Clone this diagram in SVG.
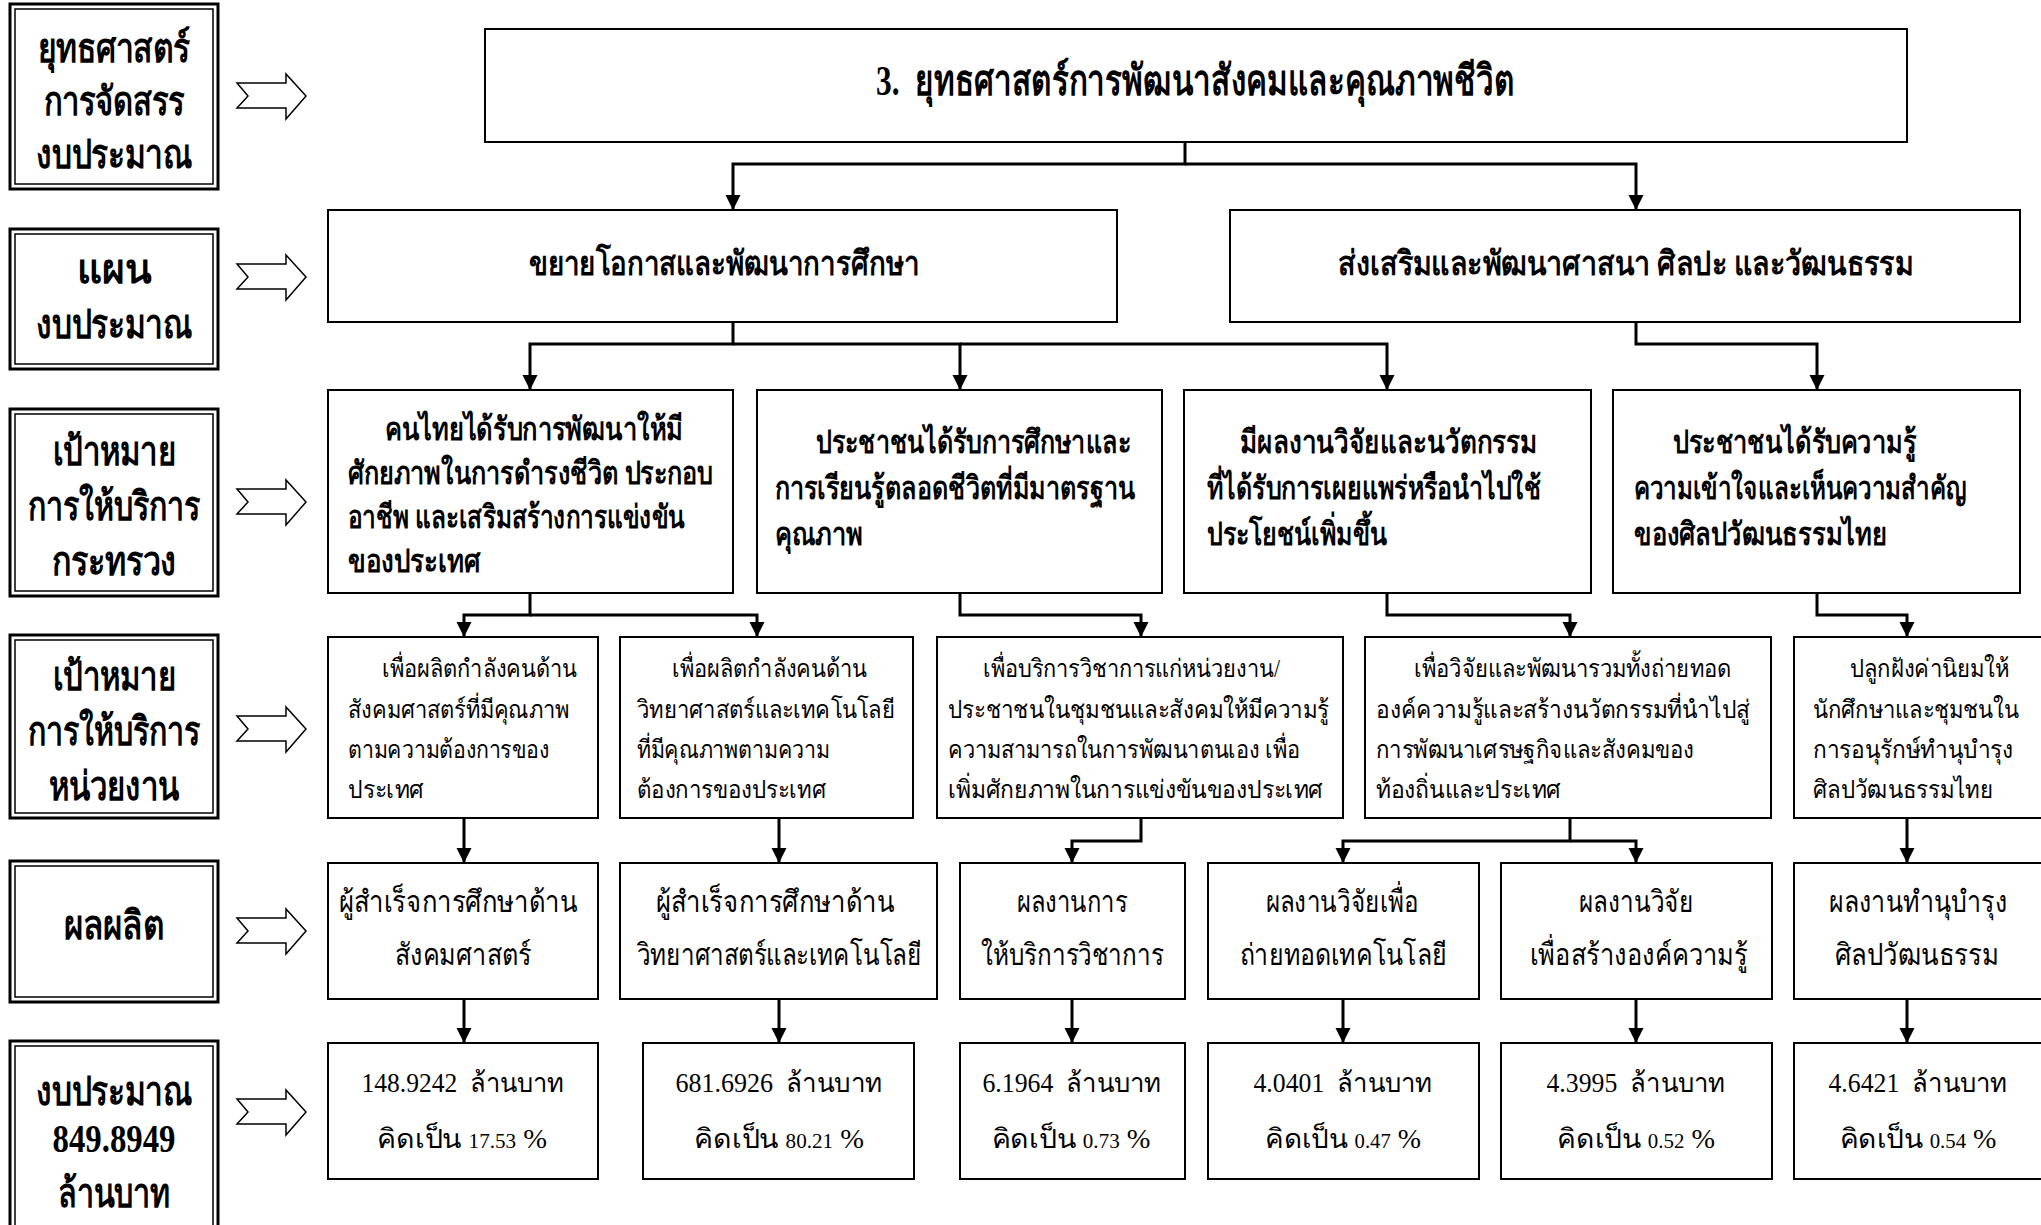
<svg xmlns="http://www.w3.org/2000/svg" width="2041" height="1225" viewBox="0 0 2041 1225">
<style>
  .bg { fill: #ffffff; }
  .box { fill: #ffffff; stroke: #000; stroke-width: 2; }
  .lo { fill: #ffffff; stroke: #000; stroke-width: 3; }
  .li { fill: none; stroke: #000; stroke-width: 1.5; }
  .ba { fill: #ffffff; stroke: #000; stroke-width: 1.5; stroke-linejoin: miter; }
  .con { fill: none; stroke: #000; stroke-width: 3; stroke-linejoin: miter; }
  text { font-family: "Liberation Serif", "Noto Sans", serif; fill: #000; }
  .lab { font-size: 40px; font-weight: bold; text-anchor: middle; }
  .ttl { font-size: 42px; font-weight: bold; }
  .pl { font-size: 34px; font-weight: bold; }
  .g1 { font-size: 32px; font-weight: bold; }
  .g2 { font-size: 25px; }
  .out { font-size: 30px; text-anchor: middle; }
  .bud { font-size: 27px; text-anchor: middle; }
  .sm { font-size: 20px; }
</style>
<defs>
  <marker id="ah" markerUnits="userSpaceOnUse" markerWidth="16" markerHeight="16" refX="15" refY="7.5" orient="auto">
    <path d="M0,0 L15,7.5 L0,15 Z" fill="#000"/>
  </marker>
  <path id="barrow" class="ba" d="M0,-13 H49 V-22 L69,0 L49,23 V12 H0 L11,0 Z"/>
</defs>
<rect class="bg" x="0" y="0" width="2041" height="1225"/>

<!-- Left label column -->
<g id="label-strategy">
  <rect class="lo" x="10" y="4" width="208" height="185"/>
  <rect class="li" x="15" y="9" width="198" height="175"/>
  <text class="lab" x="114" y="62" textLength="152" lengthAdjust="spacingAndGlyphs">ยุทธศาสตร์</text>
  <text class="lab" x="114" y="115" textLength="141" lengthAdjust="spacingAndGlyphs">การจัดสรร</text>
  <text class="lab" x="114" y="168" textLength="156" lengthAdjust="spacingAndGlyphs">งบประมาณ</text>
</g>
<g id="label-plan">
  <rect class="lo" x="10" y="229" width="208" height="140"/>
  <rect class="li" x="15" y="234" width="198" height="130"/>
  <text class="lab" x="114" y="283" textLength="74" lengthAdjust="spacingAndGlyphs">แผน</text>
  <text class="lab" x="114" y="338" textLength="156" lengthAdjust="spacingAndGlyphs">งบประมาณ</text>
</g>
<g id="label-ministry-goal">
  <rect class="lo" x="10" y="409" width="208" height="187"/>
  <rect class="li" x="15" y="414" width="198" height="177"/>
  <text class="lab" x="114" y="465" textLength="123" lengthAdjust="spacingAndGlyphs">เป้าหมาย</text>
  <text class="lab" x="114" y="520" textLength="172" lengthAdjust="spacingAndGlyphs">การให้บริการ</text>
  <text class="lab" x="114" y="575" textLength="125" lengthAdjust="spacingAndGlyphs">กระทรวง</text>
</g>
<g id="label-unit-goal">
  <rect class="lo" x="10" y="635" width="208" height="183"/>
  <rect class="li" x="15" y="640" width="198" height="173"/>
  <text class="lab" x="114" y="690" textLength="123" lengthAdjust="spacingAndGlyphs">เป้าหมาย</text>
  <text class="lab" x="114" y="745" textLength="172" lengthAdjust="spacingAndGlyphs">การให้บริการ</text>
  <text class="lab" x="114" y="800" textLength="130" lengthAdjust="spacingAndGlyphs">หน่วยงาน</text>
</g>
<g id="label-output">
  <rect class="lo" x="10" y="861" width="208" height="141"/>
  <rect class="li" x="15" y="866" width="198" height="131"/>
  <text class="lab" x="114" y="939" textLength="101" lengthAdjust="spacingAndGlyphs">ผลผลิต</text>
</g>
<g id="label-budget">
  <rect class="lo" x="10" y="1041" width="208" height="200"/>
  <rect class="li" x="15" y="1046" width="198" height="190"/>
  <text class="lab" x="114" y="1105" textLength="156" lengthAdjust="spacingAndGlyphs">งบประมาณ</text>
  <text class="lab" x="114" y="1152" textLength="123" lengthAdjust="spacingAndGlyphs">849.8949</text>
  <text class="lab" x="114" y="1207" textLength="112" lengthAdjust="spacingAndGlyphs">ล้านบาท</text>
</g>

<!-- Block arrows -->
<g id="block-arrows">
  <use href="#barrow" x="237" y="96"/>
  <use href="#barrow" x="237" y="277"/>
  <use href="#barrow" x="237" y="502"/>
  <use href="#barrow" x="237" y="729"/>
  <use href="#barrow" x="237" y="931"/>
  <use href="#barrow" x="237" y="1112"/>
</g>

<!-- Connectors -->
<g id="connectors">
  <path class="con" d="M1185,142 V164 H733 V210" marker-end="url(#ah)"/>
  <path class="con" d="M1185,164 H1636 V210" marker-end="url(#ah)"/>
  <path class="con" d="M733,322 V344 H530 V390" marker-end="url(#ah)"/>
  <path class="con" d="M733,344 H960 V390" marker-end="url(#ah)"/>
  <path class="con" d="M960,344 H1387 V390" marker-end="url(#ah)"/>
  <path class="con" d="M1636,322 V344 H1817 V390" marker-end="url(#ah)"/>
  <path class="con" d="M530,593 V615 H464 V637" marker-end="url(#ah)"/>
  <path class="con" d="M530,615 H757 V637" marker-end="url(#ah)"/>
  <path class="con" d="M960,593 V615 H1141 V637" marker-end="url(#ah)"/>
  <path class="con" d="M1387,593 V615 H1570 V637" marker-end="url(#ah)"/>
  <path class="con" d="M1817,593 V615 H1907 V637" marker-end="url(#ah)"/>
  <path class="con" d="M464,818 V863" marker-end="url(#ah)"/>
  <path class="con" d="M779,818 V863" marker-end="url(#ah)"/>
  <path class="con" d="M1141,818 V841 H1072 V863" marker-end="url(#ah)"/>
  <path class="con" d="M1570,818 V841 H1343 V863" marker-end="url(#ah)"/>
  <path class="con" d="M1570,841 H1636 V863" marker-end="url(#ah)"/>
  <path class="con" d="M1907,818 V863" marker-end="url(#ah)"/>
  <path class="con" d="M464,999 V1043" marker-end="url(#ah)"/>
  <path class="con" d="M779,999 V1043" marker-end="url(#ah)"/>
  <path class="con" d="M1072,999 V1043" marker-end="url(#ah)"/>
  <path class="con" d="M1343,999 V1043" marker-end="url(#ah)"/>
  <path class="con" d="M1636,999 V1043" marker-end="url(#ah)"/>
  <path class="con" d="M1907,999 V1043" marker-end="url(#ah)"/>
</g>

<!-- Strategy -->
<g id="strategy">
  <rect class="box" x="485" y="29" width="1422" height="113"/>
  <text class="ttl" x="876" y="95" xml:space="preserve" textLength="638" lengthAdjust="spacingAndGlyphs">3.  ยุทธศาสตร์การพัฒนาสังคมและคุณภาพชีวิต</text>
</g>

<!-- Plans -->
<g id="plan-education">
  <rect class="box" x="328" y="210" width="789" height="112"/>
  <text class="pl" x="529" y="275" textLength="390" lengthAdjust="spacingAndGlyphs">ขยายโอกาสและพัฒนาการศึกษา</text>
</g>
<g id="plan-culture">
  <rect class="box" x="1230" y="210" width="790" height="112"/>
  <text class="pl" x="1338" y="275" textLength="575" lengthAdjust="spacingAndGlyphs">ส่งเสริมและพัฒนาศาสนา ศิลปะ และวัฒนธรรม</text>
</g>

<!-- Ministry goals -->
<g id="goal-a">
  <rect class="box" x="328" y="390" width="405" height="203"/>
  <text class="g1" x="385" y="440" textLength="298" lengthAdjust="spacingAndGlyphs">คนไทยได้รับการพัฒนาให้มี</text>
  <text class="g1" x="348" y="484" textLength="365" lengthAdjust="spacingAndGlyphs">ศักยภาพในการดำรงชีวิต ประกอบ</text>
  <text class="g1" x="348" y="528" textLength="337" lengthAdjust="spacingAndGlyphs">อาชีพ และเสริมสร้างการแข่งขัน</text>
  <text class="g1" x="348" y="572" textLength="132" lengthAdjust="spacingAndGlyphs">ของประเทศ</text>
</g>
<g id="goal-b">
  <rect class="box" x="757" y="390" width="405" height="203"/>
  <text class="g1" x="816" y="453" textLength="315" lengthAdjust="spacingAndGlyphs">ประชาชนได้รับการศึกษาและ</text>
  <text class="g1" x="775" y="499" textLength="360" lengthAdjust="spacingAndGlyphs">การเรียนรู้ตลอดชีวิตที่มีมาตรฐาน</text>
  <text class="g1" x="775" y="545" textLength="88" lengthAdjust="spacingAndGlyphs">คุณภาพ</text>
</g>
<g id="goal-c">
  <rect class="box" x="1184" y="390" width="407" height="203"/>
  <text class="g1" x="1240" y="453" textLength="297" lengthAdjust="spacingAndGlyphs">มีผลงานวิจัยและนวัตกรรม</text>
  <text class="g1" x="1207" y="499" textLength="334" lengthAdjust="spacingAndGlyphs">ที่ได้รับการเผยแพร่หรือนำไปใช้</text>
  <text class="g1" x="1207" y="545" textLength="180" lengthAdjust="spacingAndGlyphs">ประโยชน์เพิ่มขึ้น</text>
</g>
<g id="goal-d">
  <rect class="box" x="1613" y="390" width="407" height="203"/>
  <text class="g1" x="1673" y="453" textLength="243" lengthAdjust="spacingAndGlyphs">ประชาชนได้รับความรู้</text>
  <text class="g1" x="1634" y="499" textLength="332" lengthAdjust="spacingAndGlyphs">ความเข้าใจและเห็นความสำคัญ</text>
  <text class="g1" x="1634" y="545" textLength="253" lengthAdjust="spacingAndGlyphs">ของศิลปวัฒนธรรมไทย</text>
</g>

<!-- Unit goals -->
<g id="unit-1">
  <rect class="box" x="328" y="637" width="270" height="181"/>
  <text class="g2" x="382" y="677" textLength="195" lengthAdjust="spacingAndGlyphs">เพื่อผลิตกำลังคนด้าน</text>
  <text class="g2" x="348" y="718" textLength="221" lengthAdjust="spacingAndGlyphs">สังคมศาสตร์ที่มีคุณภาพ</text>
  <text class="g2" x="348" y="758" textLength="201" lengthAdjust="spacingAndGlyphs">ตามความต้องการของ</text>
  <text class="g2" x="348" y="798" textLength="76" lengthAdjust="spacingAndGlyphs">ประเทศ</text>
</g>
<g id="unit-2">
  <rect class="box" x="620" y="637" width="293" height="181"/>
  <text class="g2" x="672" y="677" textLength="195" lengthAdjust="spacingAndGlyphs">เพื่อผลิตกำลังคนด้าน</text>
  <text class="g2" x="637" y="718" textLength="258" lengthAdjust="spacingAndGlyphs">วิทยาศาสตร์และเทคโนโลยี</text>
  <text class="g2" x="637" y="758" textLength="193" lengthAdjust="spacingAndGlyphs">ที่มีคุณภาพตามความ</text>
  <text class="g2" x="637" y="798" textLength="189" lengthAdjust="spacingAndGlyphs">ต้องการของประเทศ</text>
</g>
<g id="unit-3">
  <rect class="box" x="937" y="637" width="406" height="181"/>
  <text class="g2" x="983" y="677" textLength="297" lengthAdjust="spacingAndGlyphs">เพื่อบริการวิชาการแก่หน่วยงาน/</text>
  <text class="g2" x="948" y="718" textLength="381" lengthAdjust="spacingAndGlyphs">ประชาชนในชุมชนและสังคมให้มีความรู้</text>
  <text class="g2" x="948" y="758" textLength="352" lengthAdjust="spacingAndGlyphs">ความสามารถในการพัฒนาตนเอง เพื่อ</text>
  <text class="g2" x="948" y="798" textLength="375" lengthAdjust="spacingAndGlyphs">เพิ่มศักยภาพในการแข่งขันของประเทศ</text>
</g>
<g id="unit-4">
  <rect class="box" x="1365" y="637" width="406" height="181"/>
  <text class="g2" x="1414" y="677" textLength="317" lengthAdjust="spacingAndGlyphs">เพื่อวิจัยและพัฒนารวมทั้งถ่ายทอด</text>
  <text class="g2" x="1376" y="718" textLength="374" lengthAdjust="spacingAndGlyphs">องค์ความรู้และสร้างนวัตกรรมที่นำไปสู่</text>
  <text class="g2" x="1376" y="758" textLength="318" lengthAdjust="spacingAndGlyphs">การพัฒนาเศรษฐกิจและสังคมของ</text>
  <text class="g2" x="1376" y="798" textLength="185" lengthAdjust="spacingAndGlyphs">ท้องถิ่นและประเทศ</text>
</g>
<g id="unit-5">
  <rect class="box" x="1794" y="637" width="260" height="181"/>
  <text class="g2" x="1850" y="677" textLength="159" lengthAdjust="spacingAndGlyphs">ปลูกฝังค่านิยมให้</text>
  <text class="g2" x="1813" y="718" textLength="206" lengthAdjust="spacingAndGlyphs">นักศึกษาและชุมชนใน</text>
  <text class="g2" x="1813" y="758" textLength="200" lengthAdjust="spacingAndGlyphs">การอนุรักษ์ทำนุบำรุง</text>
  <text class="g2" x="1813" y="798" textLength="180" lengthAdjust="spacingAndGlyphs">ศิลปวัฒนธรรมไทย</text>
</g>

<!-- Outputs -->
<g id="output-1">
  <rect class="box" x="328" y="863" width="270" height="136"/>
  <text class="out" x="458" y="912" textLength="239" lengthAdjust="spacingAndGlyphs">ผู้สำเร็จการศึกษาด้าน</text>
  <text class="out" x="463" y="965" textLength="136" lengthAdjust="spacingAndGlyphs">สังคมศาสตร์</text>
</g>
<g id="output-2">
  <rect class="box" x="620" y="863" width="317" height="136"/>
  <text class="out" x="775" y="912" textLength="239" lengthAdjust="spacingAndGlyphs">ผู้สำเร็จการศึกษาด้าน</text>
  <text class="out" x="779" y="965" textLength="285" lengthAdjust="spacingAndGlyphs">วิทยาศาสตร์และเทคโนโลยี</text>
</g>
<g id="output-3">
  <rect class="box" x="960" y="863" width="225" height="136"/>
  <text class="out" x="1072" y="912" textLength="111" lengthAdjust="spacingAndGlyphs">ผลงานการ</text>
  <text class="out" x="1072" y="965" textLength="183" lengthAdjust="spacingAndGlyphs">ให้บริการวิชาการ</text>
</g>
<g id="output-4">
  <rect class="box" x="1208" y="863" width="271" height="136"/>
  <text class="out" x="1342" y="912" textLength="153" lengthAdjust="spacingAndGlyphs">ผลงานวิจัยเพื่อ</text>
  <text class="out" x="1343" y="965" textLength="207" lengthAdjust="spacingAndGlyphs">ถ่ายทอดเทคโนโลยี</text>
</g>
<g id="output-5">
  <rect class="box" x="1501" y="863" width="271" height="136"/>
  <text class="out" x="1636" y="912" textLength="115" lengthAdjust="spacingAndGlyphs">ผลงานวิจัย</text>
  <text class="out" x="1639" y="965" textLength="218" lengthAdjust="spacingAndGlyphs">เพื่อสร้างองค์ความรู้</text>
</g>
<g id="output-6">
  <rect class="box" x="1794" y="863" width="260" height="136"/>
  <text class="out" x="1918" y="912" textLength="178" lengthAdjust="spacingAndGlyphs">ผลงานทำนุบำรุง</text>
  <text class="out" x="1917" y="965" textLength="164" lengthAdjust="spacingAndGlyphs">ศิลปวัฒนธรรม</text>
</g>

<!-- Budgets -->
<g id="budget-1">
  <rect class="box" x="328" y="1043" width="270" height="136"/>
  <text class="bud" x="463" y="1092" xml:space="preserve" textLength="203" lengthAdjust="spacingAndGlyphs">148.9242  ล้านบาท</text>
  <text class="bud" x="462" y="1148" textLength="170" lengthAdjust="spacingAndGlyphs">คิดเป็น <tspan class="sm">17.53</tspan> %</text>
</g>
<g id="budget-2">
  <rect class="box" x="643" y="1043" width="271" height="136"/>
  <text class="bud" x="779" y="1092" xml:space="preserve" textLength="207" lengthAdjust="spacingAndGlyphs">681.6926  ล้านบาท</text>
  <text class="bud" x="779" y="1148" textLength="170" lengthAdjust="spacingAndGlyphs">คิดเป็น <tspan class="sm">80.21</tspan> %</text>
</g>
<g id="budget-3">
  <rect class="box" x="960" y="1043" width="225" height="136"/>
  <text class="bud" x="1072" y="1092" xml:space="preserve" textLength="179" lengthAdjust="spacingAndGlyphs">6.1964  ล้านบาท</text>
  <text class="bud" x="1071" y="1148" textLength="159" lengthAdjust="spacingAndGlyphs">คิดเป็น <tspan class="sm">0.73</tspan> %</text>
</g>
<g id="budget-4">
  <rect class="box" x="1208" y="1043" width="271" height="136"/>
  <text class="bud" x="1343" y="1092" xml:space="preserve" textLength="179" lengthAdjust="spacingAndGlyphs">4.0401  ล้านบาท</text>
  <text class="bud" x="1343" y="1148" textLength="156" lengthAdjust="spacingAndGlyphs">คิดเป็น <tspan class="sm">0.47</tspan> %</text>
</g>
<g id="budget-5">
  <rect class="box" x="1501" y="1043" width="271" height="136"/>
  <text class="bud" x="1636" y="1092" xml:space="preserve" textLength="179" lengthAdjust="spacingAndGlyphs">4.3995  ล้านบาท</text>
  <text class="bud" x="1636" y="1148" textLength="158" lengthAdjust="spacingAndGlyphs">คิดเป็น <tspan class="sm">0.52</tspan> %</text>
</g>
<g id="budget-6">
  <rect class="box" x="1794" y="1043" width="260" height="136"/>
  <text class="bud" x="1918" y="1092" xml:space="preserve" textLength="179" lengthAdjust="spacingAndGlyphs">4.6421  ล้านบาท</text>
  <text class="bud" x="1918" y="1148" textLength="157" lengthAdjust="spacingAndGlyphs">คิดเป็น <tspan class="sm">0.54</tspan> %</text>
</g>
</svg>
